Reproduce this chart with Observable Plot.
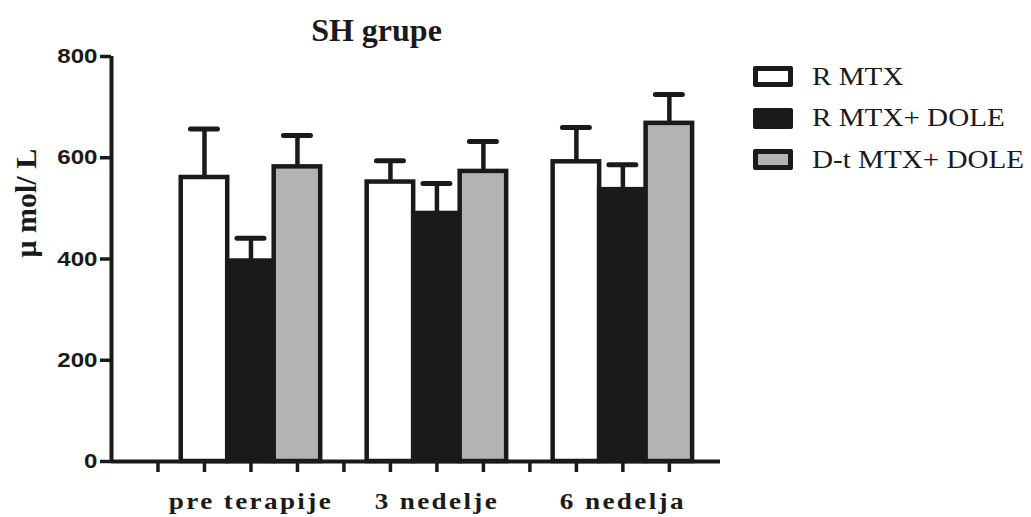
<!DOCTYPE html>
<html><head><meta charset="utf-8">
<script src="https://cdn.jsdelivr.net/npm/d3@7"></script>
<script src="https://cdn.jsdelivr.net/npm/@observablehq/plot@0.6"></script>
<style>
body{margin:0;background:#fff;}
#wrap{position:relative;width:1031px;height:517px;}
#legend{position:absolute;left:753px;top:56px;font-family:"Liberation Serif","Times New Roman",serif;font-size:26px;color:#1a1a1a;}
.row{display:flex;align-items:center;height:41.5px;}
.sw{width:30px;height:11px;border:5px solid #1a1a1a;border-radius:2px;margin-right:19px;}
.lab{display:inline-block;transform:scaleX(1.12);transform-origin:left center;white-space:nowrap;}
</style>
</head><body>
<div id="wrap"><div id="legend"></div></div>
<script>
const categories = ["pre terapije", "3 nedelje", "6 nedelja"];
const seriesNames = ["R MTX", "R MTX+ DOLE", "D-t MTX+ DOLE"];
const seriesFills = ["#ffffff", "#1a1a1a", "#b3b3b3"];
const rMtx = [561, 552, 592];
const rMtxErr = [96, 42, 68];
const rMtxDole = [396, 490, 537];
const rMtxDoleErr = [45, 59, 49];
const dtMtxDole = [582, 573, 668];
const dtMtxDoleErr = [62, 59, 57];
const yTicks = [0, 200, 400, 600, 800];
const titleText = "SH grupe";
const yLabel = "\u03bc mol/ L";

const values = [rMtx, rMtxDole, dtMtxDole];
const errs = [rMtxErr, rMtxDoleErr, dtMtxDoleErr];
const rows = [];
categories.forEach((c, g) => {
  seriesNames.forEach((s, k) => {
    rows.push({cat: c, series: s, slot: 4 * g + 1 + k, value: values[k][g], err: errs[k][g]});
  });
});
const slotTicks = d3.range(0, 12);
const catTicks = categories.map((c, i) => 4 * i + 2);
const ink = "#1a1a1a";

const chart = Plot.plot({
  width: 1031,
  height: 517,
  marginLeft: 111,
  marginRight: 311,
  marginTop: 56,
  marginBottom: 56,
  x: {domain: [-1, 12.1]},
  y: {domain: [0, 800]},
  color: {domain: seriesNames, range: seriesFills},
  style: {background: "white", color: ink, overflow: "visible"},
  marks: [
    Plot.rect(rows, {x1: d => d.slot - 0.5, x2: d => d.slot + 0.5, y1: 0, y2: "value", fill: "series", stroke: ink, strokeWidth: 4.5}),
    Plot.ruleX(rows, {x: "slot", y1: "value", y2: d => d.value + d.err, stroke: ink, strokeWidth: 4.5}),
    Plot.ruleY(rows, {y: d => d.value + d.err, x1: d => d.slot - 0.29, x2: d => d.slot + 0.29, stroke: ink, strokeWidth: 5, strokeLinecap: "round"}),
    Plot.axisY({ticks: yTicks, tickSize: 11, tickPadding: 3, tickFormat: d => String(d), fontSize: 21, fontWeight: "bold", fontFamily: "Liberation Sans, Arial, sans-serif", strokeWidth: 3.5, label: null}),
    Plot.axisX({ticks: slotTicks, tickSize: 11, tickFormat: () => "", strokeWidth: 3.5, label: null}),
    Plot.axisX({ticks: catTicks, tickSize: 0, tickPadding: 31, tickFormat: i => categories[(i - 2) / 4], fontSize: 23, fontWeight: "bold", fontFamily: "Liberation Serif, Times New Roman, serif", label: null}),
    Plot.ruleX([-1], {y1: 0, y2: 800, stroke: ink, strokeWidth: 4}),
    Plot.ruleY([0], {x1: -1, x2: 12.1, stroke: ink, strokeWidth: 4}),
    Plot.text([yLabel], {frameAnchor: "left", dx: -76, dy: -1.5, rotate: -90, lineAnchor: "bottom", fontSize: 30, fontWeight: "bold", fontFamily: "Liberation Serif, Times New Roman, serif", fill: ink}),
    Plot.text([titleText], {frameAnchor: "top", dx: -39.5, dy: -16, lineAnchor: "bottom", fontSize: 32, fontWeight: "bold", fontFamily: "Liberation Serif, Times New Roman, serif", fill: ink})
  ]
});
document.getElementById("wrap").prepend(chart);

// the reference's tick labels look horizontally stretched: widen glyphs with textLength
function stretch(el, s) {
  try {
    const len = el.getComputedTextLength();
    if (len > 0) {
      el.setAttribute("textLength", (len * s).toFixed(1));
      el.setAttribute("lengthAdjust", "spacingAndGlyphs");
    }
  } catch (e) {}
}
const yTickStrings = yTicks.map(String);
d3.select(chart).selectAll("text").each(function() {
  const t = this.textContent;
  if (yTickStrings.includes(t)) {
    this.style.fontFamily = "'Liberation Sans', Arial, sans-serif";
    this.style.fontSize = "21px";
    this.style.fontWeight = "bold";
    stretch(this, 1.15);
  } else if (categories.includes(t)) {
    this.style.fontFamily = "'Liberation Serif', 'Times New Roman', serif";
    this.style.fontSize = "23px";
    this.style.fontWeight = "bold";
    this.style.letterSpacing = "2px";
    stretch(this, 1.18);
  }
});

const legend = document.getElementById("legend");
seriesNames.forEach((s, i) => {
  const row = document.createElement("div");
  row.className = "row";
  const sw = document.createElement("span");
  sw.className = "sw";
  sw.style.background = seriesFills[i];
  const lab = document.createElement("span");
  lab.className = "lab";
  lab.textContent = s;
  row.appendChild(sw);
  row.appendChild(lab);
  legend.appendChild(row);
});
</script>
</body></html>
